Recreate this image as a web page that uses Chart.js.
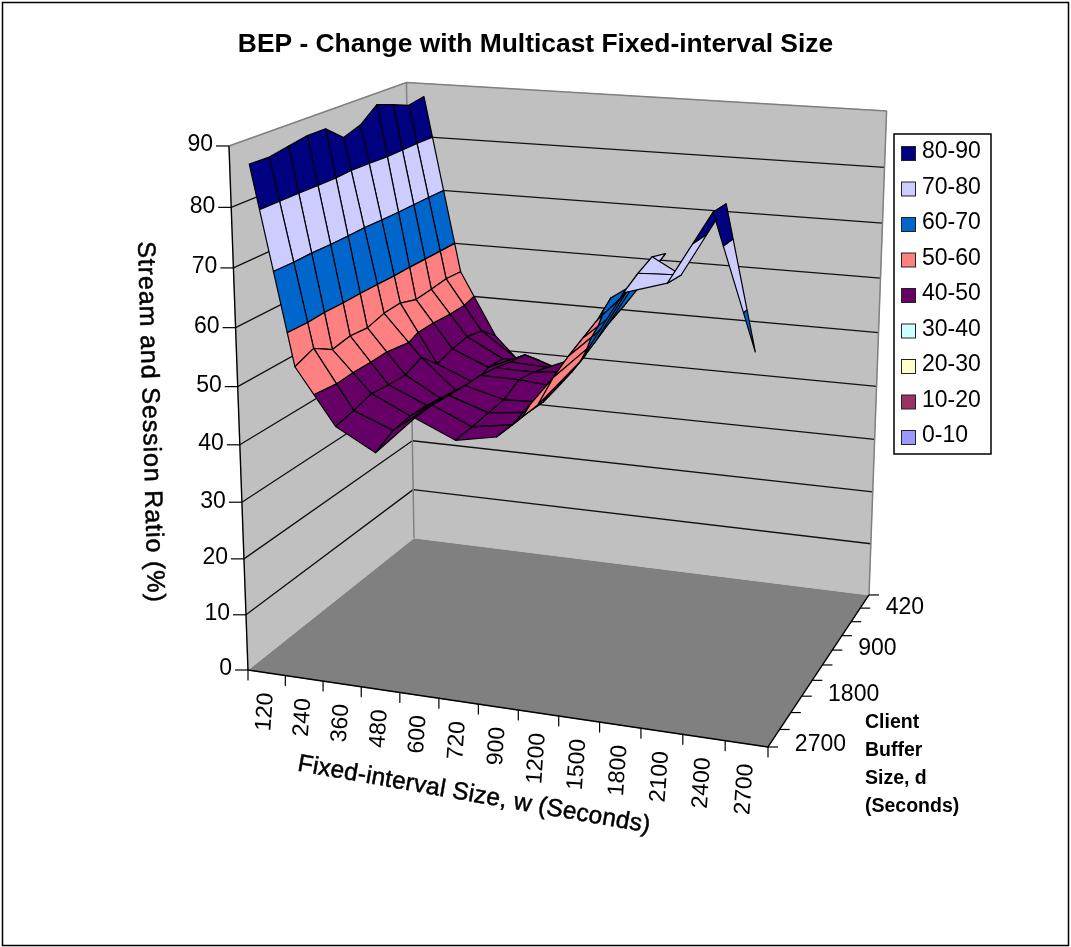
<!DOCTYPE html>
<html>
<head>
<meta charset="utf-8">
<title>BEP - Change with Multicast Fixed-interval Size</title>
<script src="https://cdn.jsdelivr.net/npm/chart.js@4"></script>
<style>
    body { margin: 0; background: #fff; }
    canvas { display: block; }
</style>
</head>
<body>
<canvas id="bep-surface" width="1071" height="947"></canvas>
<script>
// fixed-interval sizes along the front axis
const intervalLabels = ["120", "240", "360", "480", "600", "720", "900", "1200", "1500", "1800", "2100", "2400", "2700"];
// client buffer axis, back to front, only every third label is shown
const bufferLabels = ["420", "", "", "900", "", "", "1800", "", "", "2700"];
const ratioTicks = [0, 10, 20, 30, 40, 50, 60, 70, 80, 90];

// surface rows, back to front, blank where w is bigger than d
const row0 = [87.6, 54.6, 42.7];
const row1 = [87.0, 54.8, 45.4, 40.7];
const row2 = [88.2, 54.4, 46.0, 42.5, 42.9];
const row3 = [89.3, 54.1, 45.5, 42.7, 45.7, 43.5];
const row4 = [86.8, 55.1, 44.5, 41.7, 46.2, 45.9, 48.8];
const row5 = [85.7, 54.9, 47.5, 41.7, 47.0, 46.9, 47.6, 61.3];
const row6 = [88.4, 54.0, 46.2, 42.4, 47.5, 47.4, 46.8, 59.1, 66.2];
const row7 = [88.4, 54.3, 46.3, 43.4, 47.6, 45.8, 46.1, 57.8, 63.8, 73.1];
const row8 = [87.8, 53.7, 46.7, 43.5, 47.8, 45.5, 46.3, 56.5, 62.8, 74.1];
const row9 = [87.2, 55.7, 45.7, 43.0, 48.1, 45.1, 46.2, 54.8, 61.3, 73.0, 73.3, 85.0];
const row10 = [87.3, 54.4, 45.0, 41.3, 47.9, 44.9, 46.2, 52.2, 59.9, 71.5, 73.6, 85.1, 64.1];
const surfaceRows = [row0, row1, row2, row3, row4, row5, row6, row7, row8, row9, row10];

const bandLabels = ["80-90", "70-80", "60-70", "50-60", "40-50", "30-40", "20-30", "10-20", "0-10"];
const bandFloors = [80, 70, 60, 50, 40, 30, 20, 10, 0];
const bandColors = ["#000080", "#ccccff", "#0066cc", "#ff8080", "#660066", "#ccffff", "#ffffcc", "#993366", "#9999ff"];

const textFont = "'Liberation Sans', Arial, sans-serif";

// perspective view of the box: u along w, v into the page, h up
function project(u, v, h) {
    const x = 464.7 * u + 231.7 * v + 248 - 32.3 * h;
    const y = 23.2 * u - 46.6 * v + 670 - 532.5 * h;
    const w = depth(u, v) - 0.058 * h;
    return { x: x / w, y: y / w };
}

function depth(u, v) {
    return 1 - 0.072 * u + 0.1588 * v;
}

function shape(points, fillColor, lineColor, lineWidth) {
    return {
        data: points,
        showLine: true,
        fill: fillColor ? "shape" : false,
        backgroundColor: fillColor || "transparent",
        borderColor: lineColor || fillColor,
        borderWidth: lineWidth === undefined ? 1 : lineWidth,
        borderJoinStyle: "round",
        pointRadius: 0,
        tension: 0,
    };
}

function closed(corners) {
    const pts = corners.map(c => project(c[0], c[1], c[2]));
    pts.push(pts[0]);
    return pts;
}

function clipAt(poly, level, keepAbove) {
    const out = [];
    poly.forEach((a, n) => {
        const b = poly[(n + 1) % poly.length];
        const aIn = keepAbove ? a.z >= level : a.z <= level;
        const bIn = keepAbove ? b.z >= level : b.z <= level;
        if (aIn) out.push(a);
        if (aIn !== bIn) {
            const s = (level - a.z) / (b.z - a.z);
            out.push({ u: a.u + (b.u - a.u) * s, v: a.v + (b.v - a.v) * s, z: level });
        }
    });
    return out;
}

function cellCorner(col, row) {
    const z = surfaceRows[row][col];
    if (z === undefined) return null;
    return { u: (col + 0.5) / intervalLabels.length, v: 1 - row / (surfaceRows.length - 1), z: z };
}

function surfaceDatasets() {
    const cells = [];
    for (let row = 0; row < surfaceRows.length - 1; row++) {
        for (let col = 0; col < intervalLabels.length - 1; col++) {
            const corners = [cellCorner(col, row), cellCorner(col + 1, row), cellCorner(col + 1, row + 1), cellCorner(col, row + 1)].filter(Boolean);
            if (corners.length < 3) continue;
            const mid = corners.reduce((m, c) => ({ u: m.u + c.u / corners.length, v: m.v + c.v / corners.length }), { u: 0, v: 0 });
            cells.push({ corners: corners, far: depth(mid.u, mid.v) });
        }
    }
    cells.sort((a, b) => b.far - a.far);

    const sets = [];
    cells.forEach(cell => {
        bandFloors.forEach((floor, n) => {
            const piece = clipAt(clipAt(cell.corners, floor, true), floor + 10, false);
            if (piece.length < 3) return;
            const pts = piece.map(p => project(p.u, p.v, p.z / 90));
            pts.push(pts[0]);
            sets.push(shape(pts, bandColors[n], "#000", 1.2));
        });
    });
    return sets;
}

function boxDatasets() {
    const sets = [
        shape(closed([[0, 0, 0], [1, 0, 0], [1, 1, 0], [0, 1, 0]]), "#808080", "#808080"),
        shape(closed([[0, 0, 0], [0, 1, 0], [0, 1, 1], [0, 0, 1]]), "#c0c0c0", "#c0c0c0"),
        shape(closed([[0, 1, 0], [1, 1, 0], [1, 1, 1], [0, 1, 1]]), "#c0c0c0", "#c0c0c0"),
    ];
    ratioTicks.slice(1, -1).forEach(tick => {
        const h = tick / 90;
        sets.push(shape([project(0, 0, h), project(0, 1, h), project(1, 1, h)], null, "#111", 1.3));
    });
    sets.push(shape([project(0, 0, 1), project(0, 1, 1), project(1, 1, 1), project(1, 1, 0)], null, "#808080", 1.5));
    sets.push(shape([project(0, 1, 0), project(0, 1, 1)], null, "#808080", 1.5));
    return sets;
}

function axisDatasets() {
    const sets = [
        shape([project(0, 0, 1), project(0, 0, 0), project(1, 0, 0), project(1, 1, 0)], null, "#000", 1.4),
    ];
    ratioTicks.forEach(tick => {
        const p = project(0, 0, tick / 90);
        sets.push(shape([p, { x: p.x - 13, y: p.y }], null, "#000", 1.2));
    });
    for (let n = 0; n <= intervalLabels.length; n++) {
        const p = project(n / intervalLabels.length, 0, 0);
        sets.push(shape([p, { x: p.x, y: p.y + 10 }], null, "#000", 1.2));
    }
    for (let n = 0; n <= bufferLabels.length; n++) {
        const p = project(1, n / bufferLabels.length, 0);
        sets.push(shape([p, { x: p.x + 10, y: p.y }], null, "#000", 1.2));
    }
    return sets;
}

function drawText(ctx, text, x, y, font, align, angle, spacing) {
    ctx.save();
    ctx.translate(x, y);
    ctx.rotate((angle || 0) * Math.PI / 180);
    ctx.font = font;
    ctx.textAlign = align || "center";
    ctx.textBaseline = "middle";
    ctx.fillStyle = "#000";
    if (spacing) {
        // axis titles are a bit heavier than regular in the original
        ctx.letterSpacing = spacing + "px";
        ctx.strokeStyle = "#000";
        ctx.lineWidth = 0.5;
        ctx.strokeText(text, 0, 0);
    }
    ctx.fillText(text, 0, 0);
    ctx.restore();
}

// axis text, the frame and the legend box
const chartDressing = {
    id: "chartDressing",
    afterDraw(chart) {
        const ctx = chart.ctx;
        const tickFont = "23px " + textFont;
        ctx.save();
        ctx.strokeStyle = "#000";
        ctx.lineWidth = 1.5;
        ctx.strokeRect(2.5, 2.5, 1066, 943);

        ratioTicks.forEach(tick => {
            const p = project(0, 0, tick / 90);
            drawText(ctx, String(tick), p.x - 16, p.y - 1, tickFont, "right");
        });
        intervalLabels.forEach((label, n) => {
            const p = project((n + 0.5) / intervalLabels.length, 0, 0);
            drawText(ctx, label, p.x, p.y + 20, tickFont, "right", -86);
        });
        bufferLabels.forEach((label, n) => {
            if (!label) return;
            const p = project(1, 1 - (n + 0.5) / bufferLabels.length, 0);
            drawText(ctx, label, p.x + 21, p.y + 6, tickFont, "left");
        });

        drawText(ctx, "Stream and Session Ratio (%)", 150, 422, "25px " + textFont, "center", 88.4, 0.9);
        drawText(ctx, "Fixed-interval Size, w (Seconds)", 474, 795, "24.5px " + textFont, "center", 10, 0.2);
        ["Client", "Buffer", "Size, d", "(Seconds)"].forEach((line, n) => {
            drawText(ctx, line, 865, 723 + n * 28, "bold 19.5px " + textFont, "left");
        });

        ctx.fillStyle = "#fff";
        ctx.fillRect(894, 134, 97, 320);
        ctx.lineWidth = 1.5;
        ctx.strokeRect(894, 134, 97, 320);
        bandLabels.forEach((label, n) => {
            const y = 154 + n * 35.5;
            ctx.fillStyle = bandColors[n];
            ctx.fillRect(901.5, y - 7.5, 14, 14);
            ctx.lineWidth = 1;
            ctx.strokeStyle = "#222";
            ctx.strokeRect(901.5, y - 7.5, 14, 14);
            drawText(ctx, label, 922, y - 2, tickFont, "left");
        });
        ctx.restore();
    },
};

// chart draws the first dataset on top, so the list goes front to back
const allDatasets = boxDatasets().concat(surfaceDatasets(), axisDatasets()).reverse();

const bepChart = new Chart(document.getElementById("bep-surface"), {
    type: "scatter",
    data: { datasets: allDatasets },
    plugins: [chartDressing],
    options: {
        responsive: false,
        animation: false,
        events: [],
        plugins: {
            legend: { display: false },
            tooltip: { enabled: false },
            title: {
                display: true,
                text: "BEP - Change with Multicast Fixed-interval Size",
                color: "#000",
                font: { family: textFont, size: 26.4, weight: "bold", lineHeight: "30px" },
                padding: { top: 30, bottom: 0 },
            },
        },
        scales: {
            x: { type: "linear", display: false, min: 0, max: 1071 },
            y: { type: "linear", display: false, min: 60, max: 947, reverse: true },
        },
    },
});
</script>
</body>
</html>
